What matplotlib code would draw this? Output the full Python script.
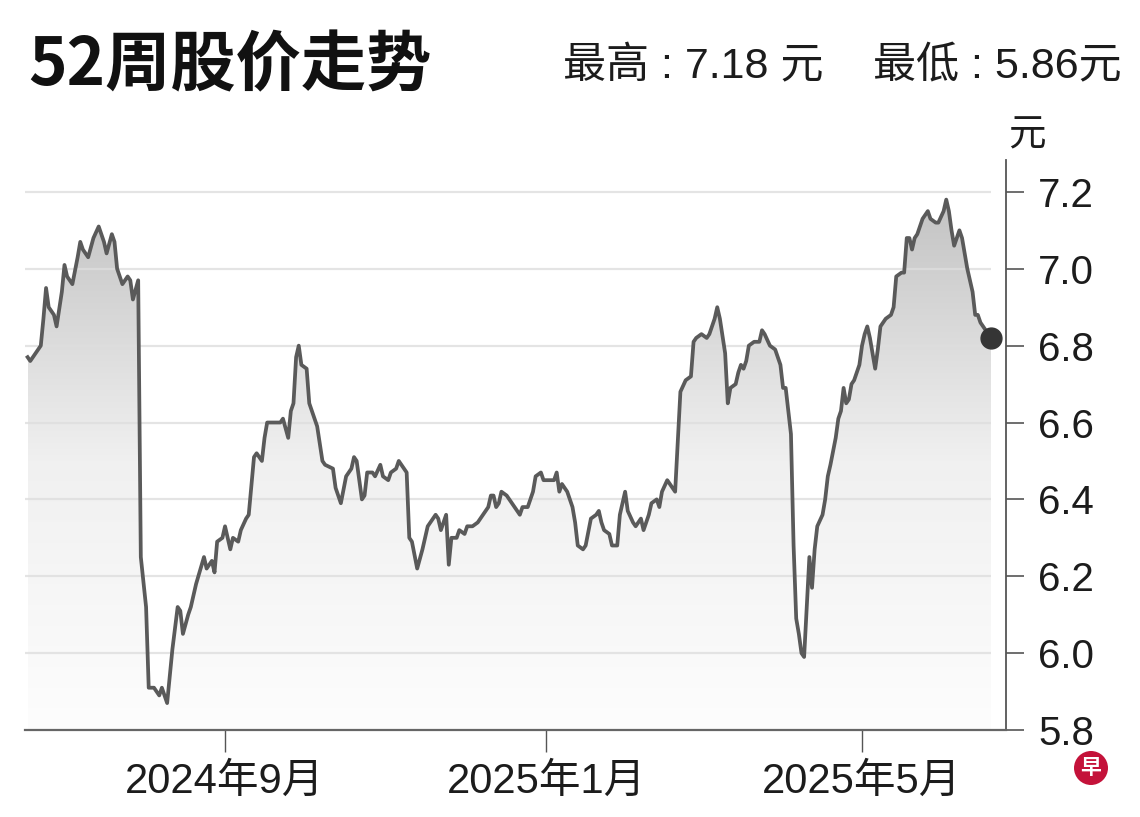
import matplotlib
import matplotlib.pyplot as plt
import matplotlib.dates as mdates
from matplotlib.colors import LinearSegmentedColormap
from matplotlib.patches import Polygon, Ellipse
import numpy as np
import pandas as pd

plt.switch_backend('agg')

# ---- data ----
base_date = pd.Timestamp('2024-09-01')
# trading days, as day offsets from base_date
day_offset = [
    -75, -74, -72, -70, -69, -68, -67, -65, -64, -62, -61, -60, -58, -56, -55,
    -54, -52, -50, -48, -46, -45, -43, -42, -41, -39, -37, -36, -35, -33,
    -32, -30, -29, -27, -26, -25, -24, -22, -20, -18, -17, -16, -14, -13, -11,
    -8, -7, -5, -4, -3, -1,
    0, 2, 3, 5, 6, 8, 9, 11, 12, 14, 15, 16, 18, 21, 22, 24, 25, 26, 27, 28,
    29, 31, 32, 34, 35, 37, 38, 41, 42, 44,
    46, 48, 49, 50, 52, 53, 54, 56, 57, 59, 60, 62, 63, 65, 66, 67, 69, 70,
    71, 73, 75, 77, 78, 80, 81, 82, 84, 85, 86, 88, 89,
    91, 92, 94, 96, 97, 98, 100, 101, 102, 103, 104, 105, 107, 109, 111, 112,
    113, 115, 117, 118, 120, 121, 123, 125, 126, 127, 128, 130, 132, 133, 134,
    136, 137, 139,
    141, 142, 143, 144, 146, 147, 149, 150, 152, 153, 155, 156, 158, 159, 161,
    162, 164, 165, 166, 168, 170, 171, 172, 173, 175, 177, 178, 179, 181, 183,
    184, 186, 187, 188,
    190, 191, 192, 194, 195, 196, 197, 198, 199, 201, 203, 204, 205, 207, 209,
    211, 212, 213, 215, 216, 217, 218, 219, 220, 221, 222, 223, 224, 225, 227,
    228, 229, 230,
    232, 233, 234, 235, 236, 237, 238, 239, 241, 242, 243, 244, 245, 247, 248,
    249, 251, 253, 254, 255, 257, 258, 259, 260, 261, 262, 263, 265, 267, 268,
    270, 271, 273, 274, 275, 276, 277, 279, 280, 281, 282, 284, 285, 286, 287,
    289, 291,
]
close = [
    6.77, 6.76, 6.78, 6.80, 6.87, 6.95, 6.90, 6.88, 6.85, 6.94, 7.01, 6.98, 6.96, 7.03, 7.07,
    7.05, 7.03, 7.08, 7.11, 7.07, 7.04, 7.09, 7.07, 7.00, 6.96, 6.98, 6.97, 6.92, 6.97,
    6.25, 6.12, 5.91, 5.91, 5.90, 5.89, 5.91, 5.87, 6.01, 6.12, 6.11, 6.05, 6.10, 6.12, 6.18,
    6.25, 6.22, 6.24, 6.21, 6.29, 6.30,
    6.33, 6.27, 6.30, 6.29, 6.32, 6.35, 6.36, 6.51, 6.52, 6.50, 6.56, 6.60, 6.60, 6.60, 6.61,
    6.56, 6.63, 6.65, 6.77, 6.80, 6.75, 6.74, 6.65, 6.61, 6.59, 6.50, 6.49, 6.48, 6.43, 6.39,
    6.46, 6.48, 6.51, 6.50, 6.40, 6.41, 6.47, 6.47, 6.46, 6.49, 6.46, 6.45, 6.47, 6.48, 6.50,
    6.49, 6.47, 6.30, 6.29, 6.22, 6.27, 6.33, 6.34, 6.36, 6.35, 6.32, 6.36, 6.23, 6.30, 6.30, 6.32,
    6.31, 6.33, 6.33, 6.34, 6.35, 6.36, 6.38, 6.41, 6.41, 6.38, 6.39, 6.42, 6.41, 6.39, 6.37,
    6.36, 6.38, 6.38, 6.42, 6.46, 6.47, 6.45, 6.45, 6.45, 6.47, 6.42, 6.44, 6.42, 6.38, 6.34,
    6.28, 6.27, 6.28, 6.35,
    6.36, 6.37, 6.34, 6.32, 6.31, 6.28, 6.28, 6.36, 6.42, 6.37, 6.34, 6.33, 6.35, 6.32, 6.36,
    6.39, 6.40, 6.38, 6.42, 6.45, 6.43, 6.42, 6.55, 6.68, 6.71, 6.72, 6.81, 6.82, 6.83, 6.82,
    6.83, 6.87, 6.90, 6.87,
    6.78, 6.65, 6.69, 6.70, 6.73, 6.75, 6.74, 6.76, 6.80, 6.81, 6.81, 6.84, 6.83, 6.80, 6.79,
    6.75, 6.69, 6.69, 6.57, 6.28, 6.09, 6.05, 6.00, 5.99, 6.12, 6.25, 6.17, 6.27, 6.33, 6.36,
    6.40, 6.46, 6.49,
    6.56, 6.61, 6.63, 6.69, 6.65, 6.66, 6.70, 6.71, 6.75, 6.80, 6.83, 6.85, 6.82, 6.74, 6.79,
    6.85, 6.87, 6.88, 6.90, 6.98, 6.99, 6.99, 7.08, 7.08, 7.05, 7.08, 7.09, 7.13, 7.15, 7.13,
    7.12, 7.12, 7.15, 7.18, 7.15, 7.10, 7.06, 7.10, 7.08, 7.04, 7.00, 6.94, 6.88, 6.88, 6.86,
    6.84, 6.82,
]

y_ticks = [5.8, 6.0, 6.2, 6.4, 6.6, 6.8, 7.0, 7.2]
x_tick_dates = ['2024-09-01', '2025-01-01', '2025-05-01']
x_tick_labels = ['2024年9月', '2025年1月', '2025年5月']
title = '52周股价走势'
high_text = '最高 : 7.18 元'
low_text = '最低 : 5.86元'
unit = '元'

# ---- fonts ----
cjk = 'Noto Sans CJK SC'
num_font = ['Liberation Sans', cjk]

W, H = 1140, 817
fig = plt.figure(figsize=(W / 100, H / 100), dpi=100)
fig.patch.set_facecolor('white')

# axes box in pixels: x 25..1006, y 160..730
ax = fig.add_axes([25 / W, 1 - 730 / H, (1006 - 25) / W, (730 - 160) / H])

x0 = mdates.date2num(base_date)
x = x0 + np.array(day_offset, dtype=float)
y = np.array(close)
ymin, ymax = 5.8, 7.283
xlo, xhi = x0 - 76, x0 + 296.7

# gradient fill under the line
verts = np.column_stack([np.r_[x, x[-1], x[0]], np.r_[y, ymin, ymin]])
clip = Polygon(verts, closed=True, fc='none', ec='none', transform=ax.transData)
ax.add_patch(clip)
cmap = LinearSegmentedColormap.from_list('fade', ['#fdfdfd', '#f0f0f0', '#c2c2c2'])
grad = np.linspace(0, 1, 256).reshape(-1, 1)
im = ax.imshow(grad, cmap=cmap, aspect='auto', origin='lower',
               extent=[x[0], x[-1], ymin, 7.2], zorder=1, interpolation='bicubic')
im.set_clip_path(clip)

# horizontal grid lines up to the last point
ax.hlines(y_ticks[1:], xlo, x[-1], color='#dedede', lw=1.6, alpha=0.8, zorder=2)

ax.plot(x, y, color='#5a5a5a', lw=2.7, zorder=3, solid_joinstyle='round')
ax.plot(x[-1], y[-1], 'o', ms=15, color='#353535', zorder=4)

ax.set_xlim(xlo, xhi)
ax.set_ylim(ymin, ymax)

for s in ['left', 'top']:
    ax.spines[s].set_visible(False)
ax.spines['bottom'].set_color('#666666')
ax.spines['bottom'].set_linewidth(1.6)
ax.spines['right'].set_color('#555555')
ax.spines['right'].set_linewidth(1.3)

ax.yaxis.tick_right()
ax.set_yticks(y_ticks)
ax.set_yticklabels(['%.1f' % v for v in y_ticks])
ax.tick_params(axis='y', direction='out', length=13, width=1.2, color='#555555',
               pad=10, labelsize=29, labelcolor='#1c1c1c')
for lab in ax.get_yticklabels():
    lab.set_family(num_font)

ax.set_xticks(mdates.date2num(pd.to_datetime(x_tick_dates)))
ax.set_xticklabels(x_tick_labels)
ax.tick_params(axis='x', direction='out', length=16, width=1.0, color='#555555',
               pad=7, labelsize=30, labelcolor='#1c1c1c')
for lab in ax.get_xticklabels():
    lab.set_family(num_font)

# headings
fig.text(28 / W, 1 - 66 / H, title, fontsize=47, fontweight='bold', family=[cjk],
         color='#111111', va='center', ha='left')
fig.text(563 / W, 1 - 67 / H, high_text, fontsize=31, family=num_font,
         color='#1c1c1c', va='center', ha='left')
fig.text(1122 / W, 1 - 67 / H, low_text, fontsize=31, family=num_font,
         color='#1c1c1c', va='center', ha='right')
fig.text(1027 / W, 1 - 135 / H, unit, fontsize=27, family=[cjk],
         color='#1c1c1c', va='center', ha='center')

# small red logo
fig.patches.append(Ellipse((1091 / W, 1 - 768 / H), 34 / W, 34 / H,
                           transform=fig.transFigure, fc='#c4123a', ec='none'))
fig.text(1091 / W, 1 - 768 / H, '早', fontsize=15, fontweight='bold', family=[cjk],
         color='white', va='center', ha='center')

plt.savefig('out.png', dpi=100)
